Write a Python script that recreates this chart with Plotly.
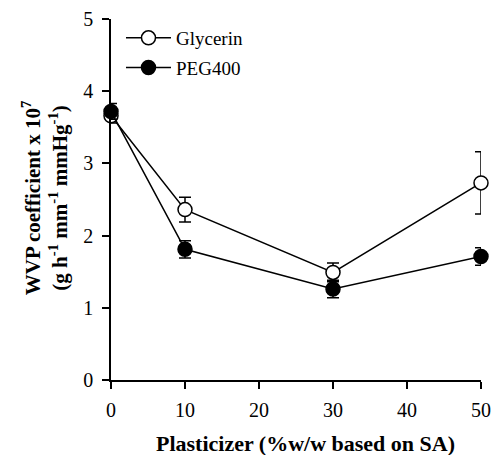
import plotly.graph_objects as go

plasticizer = [0, 10, 30, 50]
glycerin = [3.66, 2.36, 1.49, 2.73]
glycerin_err = [0.10, 0.17, 0.13, 0.43]
peg400 = [3.72, 1.81, 1.26, 1.71]
peg400_err = [0.11, 0.12, 0.12, 0.12]

FONT = "Liberation Serif"

fig = go.Figure()
fig.add_trace(go.Scatter(
    x=plasticizer, y=glycerin, name="Glycerin", mode="lines+markers",
    legendgroup="g",
    line=dict(color="black", width=1.5),
    marker=dict(symbol="circle", size=14, color="white", line=dict(color="black", width=1.5)),
    error_y=dict(type="data", array=glycerin_err, color="black", thickness=1.5, width=6),
    cliponaxis=False,
))
fig.add_trace(go.Scatter(
    x=plasticizer, y=peg400, name="PEG400", mode="lines+markers",
    legendgroup="p",
    line=dict(color="black", width=1.5),
    marker=dict(symbol="circle", size=14, color="black", line=dict(color="black", width=1.5)),
    error_y=dict(type="data", array=peg400_err, color="black", thickness=1.5, width=6),
    cliponaxis=False,
))

fig.update_layout(
    width=495, height=455,
    margin=dict(l=111, r=14, t=19, b=75),
    paper_bgcolor="white", plot_bgcolor="white",
    font=dict(family=FONT, color="black", size=20),
    showlegend=True,
    legend=dict(
        x=0.027, y=1.0, xanchor="left", yanchor="top",
        font=dict(size=19, family=FONT),
        bgcolor="rgba(0,0,0,0)",
        traceorder="grouped", tracegroupgap=2,
        itemwidth=45,
    ),
    annotations=[
        dict(text="<b>Plasticizer (%w/w based on SA)</b>", xref="paper", yref="paper",
             x=0.527, y=-0.177, xanchor="center", yanchor="middle", showarrow=False,
             font=dict(size=22, family=FONT)),
        dict(text="<b>WVP coefficient x 10<sup>7</sup><br>(g h<sup>-1</sup> mm<sup>-1</sup> mmHg<sup>-1</sup>)</b>",
             xref="paper", yref="paper", x=-0.178, y=0.504, xanchor="center", yanchor="middle",
             textangle=-90, showarrow=False, font=dict(size=21, family=FONT)),
    ],
)
fig.update_xaxes(
    range=[0, 50], tickvals=[0, 10, 20, 30, 40, 50], automargin=False,
    showline=True, linecolor="black", linewidth=1.5,
    ticks="outside", ticklen=7, tickwidth=1.5, tickcolor="black",
    showgrid=False, zeroline=False, ticklabeloverflow="allow",
    ticklabelstandoff=4,
    tickfont=dict(size=20, family=FONT),
)
fig.update_yaxes(
    range=[0, 5], tickvals=[0, 1, 2, 3, 4, 5], automargin=False,
    showline=True, linecolor="black", linewidth=1.5,
    ticks="outside", ticklen=7, tickwidth=1.5, tickcolor="black",
    showgrid=False, zeroline=False, ticklabeloverflow="allow",
    ticklabelstandoff=5,
    tickfont=dict(size=20, family=FONT),
)

fig.write_html(
    "out.html",
    config={"displayModeBar": False},
    post_script="document.body.style.margin='0';document.body.style.overflow='hidden';",
)
